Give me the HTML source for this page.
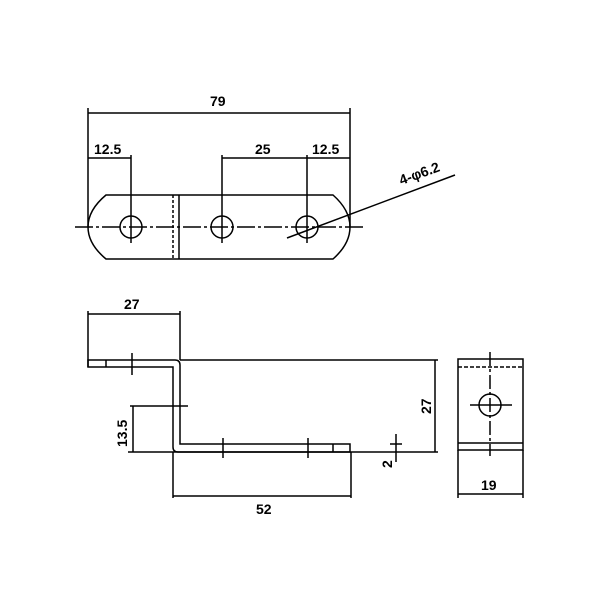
<!DOCTYPE html><html><head><style>body{margin:0;background:#fff}svg{display:block}text{font-family:"Liberation Sans",sans-serif;font-size:14px;fill:#000;font-weight:bold}</style></head><body>
<svg width="600" height="600" viewBox="0 0 600 600" stroke="#000" fill="none" stroke-width="1.5">
<line x1="88" y1="113" x2="350" y2="113"/>
<line x1="88" y1="108" x2="88" y2="227"/><line x1="350" y1="108" x2="350" y2="227"/>
<line x1="88" y1="158" x2="131" y2="158"/><line x1="222" y1="158" x2="350" y2="158"/>
<line x1="131" y1="155" x2="131" y2="243"/><line x1="222" y1="155" x2="222" y2="243"/><line x1="307" y1="155" x2="307" y2="243"/>
<text x="210" y="106" stroke="none">79</text>
<text x="94" y="154" stroke="none">12.5</text>
<text x="255" y="154" stroke="none">25</text>
<text x="312" y="154" stroke="none">12.5</text>
<path d="M106 195 L333 195 Q350 210 350 227 Q350 244 333 259 L106 259 Q88 244 88 227 Q88 210 106 195 Z"/>
<line x1="179" y1="195" x2="179" y2="259"/>
<line x1="173" y1="195" x2="173" y2="259" stroke-dasharray="3,2"/>
<line x1="75" y1="227" x2="365" y2="227" stroke-dasharray="18,3,3,3"/>
<circle cx="131" cy="227" r="11"/><circle cx="222" cy="227" r="11"/><circle cx="307" cy="227" r="11"/>
<line x1="287" y1="238" x2="455" y2="175"/>
<text x="421" y="178" stroke="none" text-anchor="middle" transform="rotate(-20 421 178)">4-φ6.2</text>
<line x1="88" y1="314" x2="180" y2="314"/>
<line x1="88" y1="311" x2="88" y2="367"/><line x1="180" y1="311" x2="180" y2="360"/>
<text x="124" y="309" stroke="none">27</text>
<path d="M88 360 L175 360 Q180 360 180 365 L180 444 L350 444 L350 452 L178 452 Q173 452 173 447 L173 367 L88 367 Z"/>
<line x1="180" y1="360" x2="438" y2="360"/>
<line x1="128" y1="452" x2="438" y2="452"/>
<line x1="106" y1="360" x2="106" y2="367"/>
<line x1="132" y1="353" x2="132" y2="375"/>
<line x1="223" y1="438" x2="223" y2="458"/><line x1="308" y1="438" x2="308" y2="458"/>
<line x1="333" y1="444" x2="333" y2="452"/>
<line x1="435" y1="360" x2="435" y2="452"/>
<text x="0" y="0" stroke="none" transform="translate(431 414) rotate(-90)">27</text>
<line x1="130" y1="406" x2="188" y2="406"/>
<line x1="133" y1="406" x2="133" y2="452"/>
<text x="0" y="0" stroke="none" transform="translate(127 447) rotate(-90)">13.5</text>
<line x1="396" y1="434" x2="396" y2="462"/>
<line x1="390" y1="444" x2="402" y2="444"/>
<text x="0" y="0" stroke="none" transform="translate(392 468) rotate(-90)">2</text>
<line x1="173" y1="452" x2="173" y2="498"/><line x1="351" y1="452" x2="351" y2="498"/>
<line x1="173" y1="496" x2="351" y2="496"/>
<text x="256" y="514" stroke="none">52</text>
<rect x="458" y="359" width="65" height="91"/>
<line x1="458" y1="367" x2="523" y2="367" stroke-dasharray="4,2"/>
<line x1="458" y1="443" x2="523" y2="443"/>
<circle cx="490" cy="405" r="11"/>
<line x1="490" y1="352" x2="490" y2="456" stroke-dasharray="14,3,3,3"/>
<line x1="470" y1="405" x2="512" y2="405"/>
<line x1="458" y1="450" x2="458" y2="498"/><line x1="523" y1="450" x2="523" y2="498"/>
<line x1="458" y1="494" x2="523" y2="494"/>
<text x="481" y="490" stroke="none">19</text>
</svg></body></html>
